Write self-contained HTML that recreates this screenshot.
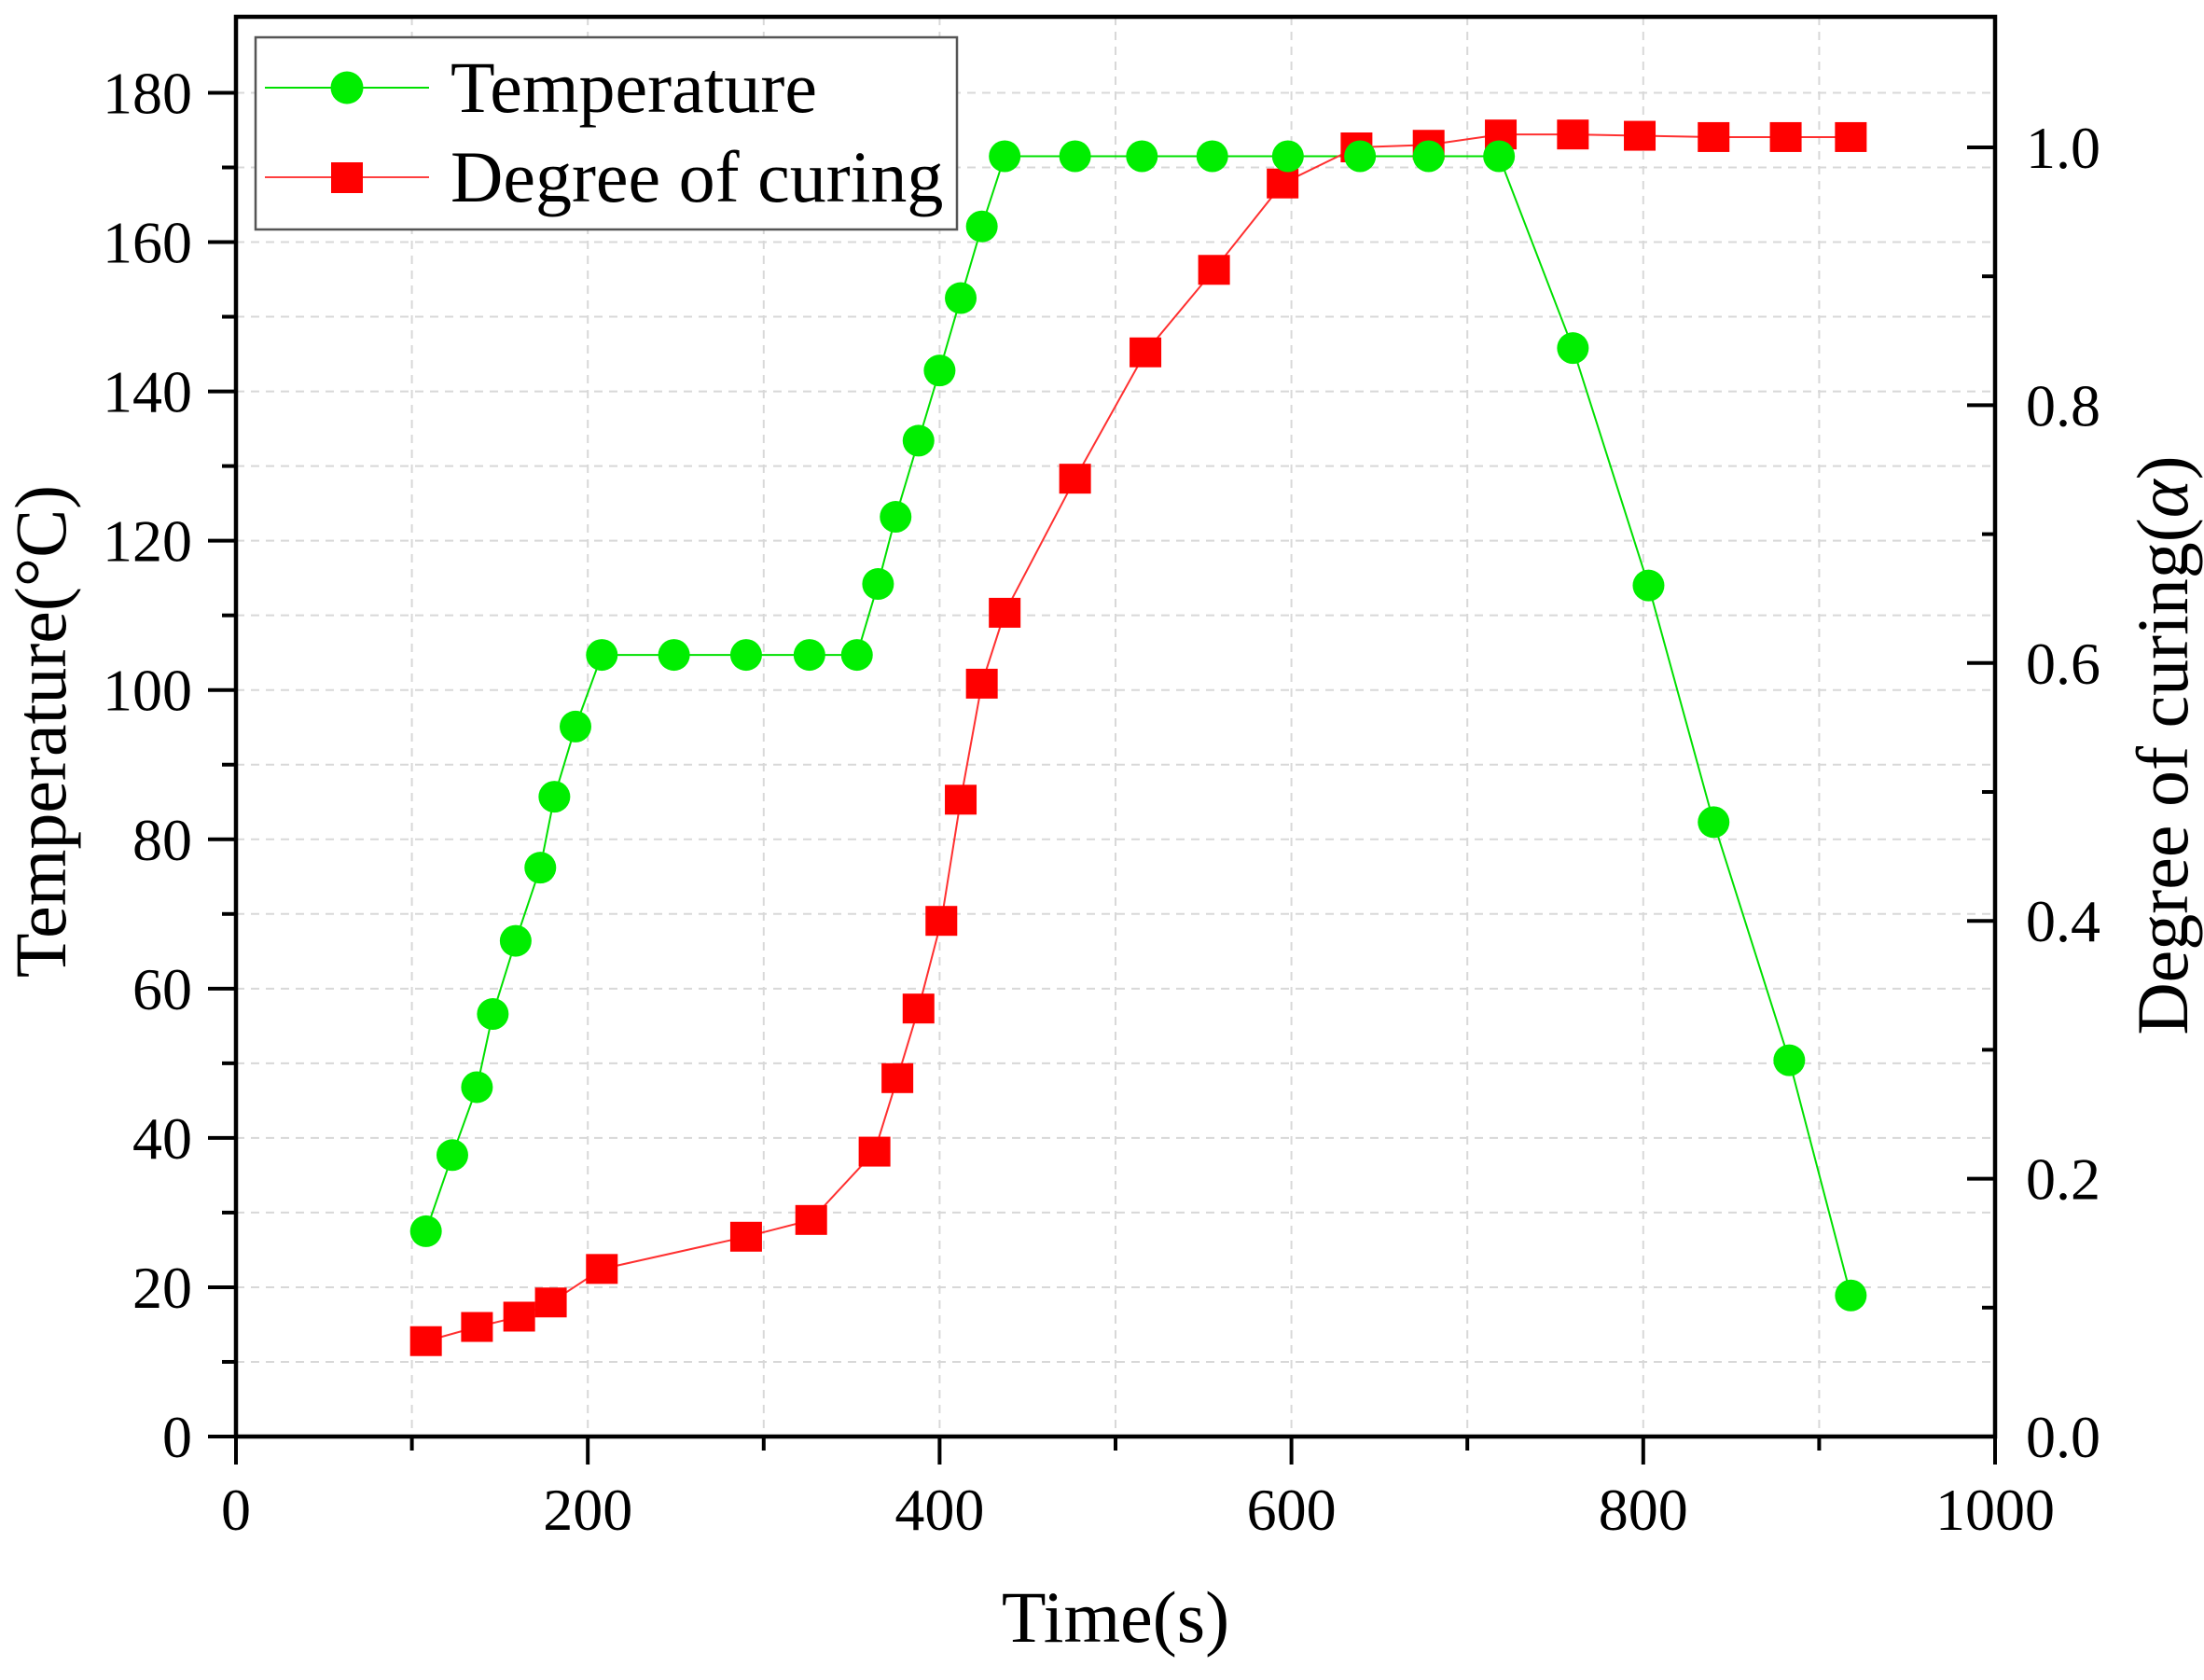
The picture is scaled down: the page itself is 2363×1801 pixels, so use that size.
<!DOCTYPE html>
<html><head><meta charset="utf-8"><style>
html,body{margin:0;padding:0;background:#fff;}
svg{display:block;font-family:"Liberation Serif",serif;}
</style></head><body>
<svg id="chart" width="2363" height="1801" viewBox="0 0 2363 1801" xmlns="http://www.w3.org/2000/svg">
<g id="grid"></g>
<g id="series"></g>
<g id="axes"></g>
<text x="1196" y="1760" font-size="78" text-anchor="middle">Time(s)</text>
<text transform="translate(70,784) rotate(-90)" font-size="78" text-anchor="middle">Temperature(°C)</text>
<text transform="translate(2345,799) rotate(-90)" font-size="78" text-anchor="middle">Degree of curing(<tspan font-style="italic">α</tspan>)</text>
<g id="legend">
<rect x="274" y="40" width="752" height="206" fill="#fff" stroke="#555" stroke-width="2.5"/>
<g>
<line x1="284" y1="94" x2="460" y2="94" stroke="#00e000" stroke-width="2"/>
<circle cx="372" cy="94" r="17.5" fill="#00ee00"/>
<text x="483" y="120" font-size="78">Temperature</text>
</g>
<g>
<line x1="284" y1="190" x2="460" y2="190" stroke="#ff4040" stroke-width="2"/>
<rect x="355" y="174" width="34" height="33" fill="#ff0000"/>
<text x="483" y="216" font-size="78">Degree of curing</text>
</g>
</g>
</svg>
<script>
const tempTimes=[108,123,137,146,159,173,181,193,208,249,290,326,353,365,375,388,400,412,424,437,477,515,555,598,639,678,718,760,803,840,883,918];
const tempValues=[27.5,37.7,46.8,56.6,66.4,76.2,85.7,95.1,104.7,104.7,104.7,104.7,104.7,114.2,123.2,133.4,142.8,152.5,162.1,171.5,171.5,171.5,171.5,171.5,171.5,171.5,171.5,145.8,114,82.3,50.4,18.9];
const cureTimes=[108,137,161,179,208,290,327,363,376,388,401,412,424,437,477,517,556,595,637,678,719,760,798,840,881,918];
const cureValues=[0.074,0.085,0.093,0.104,0.130,0.155,0.168,0.221,0.278,0.332,0.400,0.494,0.584,0.639,0.743,0.841,0.905,0.972,1.000,1.002,1.010,1.010,1.009,1.008,1.008,1.008];
const xTicks=[0,200,400,600,800,1000];
const yLeftTicks=[0,20,40,60,80,100,120,140,160,180];
const yRightTicks=["0.0","0.2","0.4","0.6","0.8","1.0"];

const L=253,R=2139,T=18,B=1540;
const xs=v=>L+(v/1000)*(R-L);
const yl=v=>B-v*8.003;
const yr=v=>B-v*1382;
const NS="http://www.w3.org/2000/svg";
function mk(tag,attrs,parent){const e=document.createElementNS(NS,tag);for(const k in attrs)e.setAttribute(k,attrs[k]);parent.appendChild(e);return e;}
const grid=document.getElementById('grid'),series=document.getElementById('series'),axes=document.getElementById('axes');

for(let t=100;t<1000;t+=100){const g=mk('line',{x1:xs(t),x2:xs(t),y1:T,y2:B,stroke:'#d8d8d8','stroke-width':2,'stroke-dasharray':'9 7'},grid);

}
for(let v=10;v<190;v+=10){const g=mk('line',{x1:L,x2:R,y1:yl(v),y2:yl(v),stroke:'#d8d8d8','stroke-width':2,'stroke-dasharray':'9 7'},grid);

}

// temperature
const tp=mk('polyline',{points:tempTimes.map((t,i)=>xs(t)+','+yl(tempValues[i])).join(' '),fill:'none',stroke:'#00e000','stroke-width':2},series);


// curing
const cp=mk('polyline',{points:cureTimes.map((t,i)=>xs(t)+','+yr(cureValues[i])).join(' '),fill:'none',stroke:'#ff3030','stroke-width':2},series);


cureTimes.forEach((t,i)=>{const r=mk('rect',{x:xs(t)-17,y:yr(cureValues[i])-16,width:34,height:32,fill:'#ff0000'},series);

});
tempTimes.forEach((t,i)=>{const c=mk('circle',{cx:xs(t),cy:yl(tempValues[i]),r:17,fill:'#00ee00'},series);

});

// frame
const fr=mk('rect',{x:L,y:T,width:R-L,height:B-T,fill:'none',stroke:'#000','stroke-width':4.5},axes);


// x ticks
for(let t=0;t<=1000;t+=100){const maj=t%200===0;const l=mk('line',{x1:xs(t),x2:xs(t),y1:B,y2:B+(maj?30:15),stroke:'#000','stroke-width':4},axes);

}
xTicks.forEach(v=>{const tx=mk('text',{x:xs(v),y:1640,'font-size':64,'text-anchor':'middle'},axes);tx.textContent=v;

});
// left ticks
for(let v=0;v<=180;v+=10){const maj=v%20===0;const l=mk('line',{x1:L,x2:L-(maj?30:15),y1:yl(v),y2:yl(v),stroke:'#000','stroke-width':4},axes);

}
yLeftTicks.forEach(v=>{const tx=mk('text',{x:206,y:yl(v)+22,'font-size':64,'text-anchor':'end'},axes);tx.textContent=v;

});
// right ticks (inward)
for(let k=0;k<=10;k++){const v=k/10;const maj=k%2===0;const l=mk('line',{x1:R,x2:R-(maj?30:14),y1:yr(v),y2:yr(v),stroke:'#000','stroke-width':4},axes);

}
yRightTicks.forEach(s=>{const tx=mk('text',{x:2172,y:yr(parseFloat(s))+22,'font-size':64},axes);tx.textContent=s;

});
</script>
</body></html>
